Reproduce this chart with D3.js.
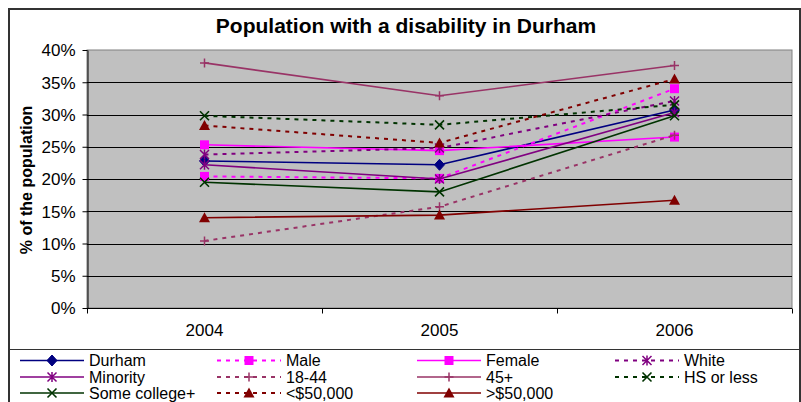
<!DOCTYPE html>
<html>
<head>
<meta charset="utf-8">
<script src="https://cdn.jsdelivr.net/npm/d3@7/dist/d3.min.js"></script>
<style>
  html, body { margin: 0; padding: 0; background: #fff; }
  svg text { font-family: "Liberation Sans", Arial, sans-serif; fill: #000; }
</style>
</head>
<body>
<svg id="chart" width="801" height="402"></svg>
<script>
// Survey years and the share of each group reporting a disability (%)
const years = ["2004", "2005", "2006"];
const yTicks = [0, 5, 10, 15, 20, 25, 30, 35, 40];

const durham      = [22.8, 22.2, 30.7];
const male        = [20.4, 20.1, 34.0];
const female      = [25.3, 24.4, 26.5];
const white       = [23.8, 24.8, 32.1];
const minority    = [22.2, 20.0, 30.3];
const age18to44   = [10.4, 15.7, 26.8];
const age45plus   = [38.0, 32.9, 37.6];
const hsOrLess    = [29.8, 28.4, 31.5];
const someCollege = [19.5, 18.0, 29.8];
const under50k    = [28.3, 25.6, 35.5];
const over50k     = [14.0, 14.4, 16.7];

const seriesNames = ["Durham", "Male", "Female", "White", "Minority", "18-44", "45+",
                     "HS or less", "Some college+", "<$50,000", ">$50,000"];
const seriesValues = [durham, male, female, white, minority, age18to44, age45plus,
                      hsOrLess, someCollege, under50k, over50k];

// Line colour, dash and marker per series
const styles = [
  { color: "#000080", dashed: false, marker: "diamond" },
  { color: "#FF00FF", dashed: true,  marker: "square" },
  { color: "#FF00FF", dashed: false, marker: "square" },
  { color: "#800080", dashed: true,  marker: "star" },
  { color: "#800080", dashed: false, marker: "star" },
  { color: "#993366", dashed: true,  marker: "plus" },
  { color: "#993366", dashed: false, marker: "plus" },
  { color: "#003300", dashed: true,  marker: "cross" },
  { color: "#003300", dashed: false, marker: "cross" },
  { color: "#800000", dashed: true,  marker: "triangle" },
  { color: "#800000", dashed: false, marker: "triangle" }
];

const series = seriesNames.map((name, i) => ({ name, values: seriesValues[i], ...styles[i] }));

const svg = d3.select("#chart");
const labelSize = "17px";
const legendSize = "16px";

// Chart frame
svg.append("rect")
  .attr("x", 9).attr("y", 9).attr("width", 791).attr("height", 400)
  .attr("fill", "#fff").attr("stroke", "#333").attr("stroke-width", 2);

const plot = { left: 87, right: 792, top: 50, bottom: 308 };

const x = d3.scaleBand().domain(years).range([plot.left, plot.right]);
const y = d3.scaleLinear().domain([0, 40]).range([plot.bottom, plot.top]);

// Plot area
svg.append("rect")
  .attr("x", plot.left).attr("y", plot.top)
  .attr("width", plot.right - plot.left).attr("height", plot.bottom - plot.top)
  .attr("fill", "#C0C0C0").attr("stroke", "#808080").attr("stroke-width", 1);

// Horizontal gridlines
svg.append("g")
  .selectAll("line")
  .data(yTicks.filter(t => t > 0 && t < 40))
  .join("line")
  .attr("x1", plot.left).attr("x2", plot.right)
  .attr("y1", d => Math.round(y(d)) + 0.5).attr("y2", d => Math.round(y(d)) + 0.5)
  .attr("stroke", "#000").attr("stroke-width", 1);

// Y axis
const yAxis = svg.append("g")
  .attr("transform", `translate(${plot.left + 0.5},0)`)
  .call(d3.axisLeft(y).tickValues(yTicks).tickFormat(d => d + "%").tickSize(5).tickSizeOuter(0));
yAxis.select(".domain").attr("stroke", "#000");
yAxis.selectAll(".tick line").attr("stroke", "#000");
yAxis.selectAll(".tick text")
  .attr("x", -12).attr("dy", "0.35em")
  .style("font-size", labelSize);

// X axis, tick marks on the category boundaries
const xAxisG = svg.append("g").attr("transform", `translate(0,${plot.bottom + 0.5})`);
xAxisG.append("line")
  .attr("x1", plot.left).attr("x2", plot.right)
  .attr("stroke", "#000");
const boundaries = years.map(d => x(d)).concat([x(years[years.length - 1]) + x.bandwidth()]);
xAxisG.selectAll("line.tk")
  .data(boundaries)
  .join("line").attr("class", "tk")
  .attr("x1", d => Math.round(d) + 0.5).attr("x2", d => Math.round(d) + 0.5)
  .attr("y1", 0).attr("y2", 5)
  .attr("stroke", "#000");
xAxisG.selectAll("text")
  .data(years)
  .join("text")
  .attr("x", d => x(d) + x.bandwidth() / 2)
  .attr("y", 27)
  .attr("text-anchor", "middle")
  .style("font-size", labelSize)
  .text(d => d);

// Title
svg.append("text")
  .attr("x", 406).attr("y", 33)
  .attr("text-anchor", "middle")
  .style("font-size", "21px").style("font-weight", "bold")
  .text("Population with a disability in Durham");

// Y axis title
svg.append("text")
  .attr("transform", `translate(32,${(plot.top + plot.bottom) / 2 + 1}) rotate(-90)`)
  .attr("text-anchor", "middle")
  .style("font-size", "16px").style("font-weight", "bold")
  .text("% of the population");

// Marker shapes
function drawMarker(g, kind, color, cx, cy) {
  const s = 4.5;
  if (kind === "diamond") {
    g.append("path").attr("d", `M${cx},${cy - 5.5}L${cx + 5},${cy}L${cx},${cy + 5.5}L${cx - 5},${cy}Z`)
      .attr("fill", color).attr("stroke", color);
  } else if (kind === "square") {
    g.append("rect").attr("x", cx - 4.5).attr("y", cy - 4.5).attr("width", 9).attr("height", 9)
      .attr("fill", color);
  } else if (kind === "triangle") {
    g.append("path").attr("d", `M${cx},${cy - 5.5}L${cx + 5.5},${cy + 4.5}L${cx - 5.5},${cy + 4.5}Z`)
      .attr("fill", color);
  } else if (kind === "plus") {
    g.append("path").attr("d", `M${cx - s},${cy}H${cx + s}M${cx},${cy - s}V${cy + s}`)
      .attr("stroke", color).attr("stroke-width", 1.5).attr("fill", "none");
  } else if (kind === "cross") {
    g.append("path").attr("d", `M${cx - s},${cy - s}L${cx + s},${cy + s}M${cx - s},${cy + s}L${cx + s},${cy - s}`)
      .attr("stroke", color).attr("stroke-width", 1.6).attr("fill", "none");
  } else if (kind === "star") {
    g.append("path").attr("d", `M${cx - s},${cy - s}L${cx + s},${cy + s}M${cx - s},${cy + s}L${cx + s},${cy - s}M${cx},${cy - s - 0.5}V${cy + s + 0.5}`)
      .attr("stroke", color).attr("stroke-width", 1.5).attr("fill", "none");
  }
}

const dash = "4,5";
const line = d3.line()
  .x((d, i) => x(years[i]) + x.bandwidth() / 2)
  .y(d => y(d));

// Series lines and markers, drawn in series order
const seriesG = svg.append("g");
series.forEach(s => {
  const g = seriesG.append("g");
  g.append("path")
    .attr("d", line(s.values))
    .attr("fill", "none")
    .attr("stroke", s.color)
    .attr("stroke-width", s.dashed ? 2 : 1.6)
    .attr("stroke-dasharray", s.dashed ? dash : null);
  s.values.forEach((v, i) => drawMarker(g, s.marker, s.color, x(years[i]) + x.bandwidth() / 2, y(v)));
});

// Legend
svg.append("line")
  .attr("x1", 9).attr("x2", 800).attr("y1", 349.5).attr("y2", 349.5)
  .attr("stroke", "#333").attr("stroke-width", 1);

const legendCols = [20, 217, 417, 615];
const legendRowY = [360.5, 377, 393];
const legend = svg.append("g");
series.forEach((s, i) => {
  const col = i % 4, row = Math.floor(i / 4);
  const lx = legendCols[col], ly = legendRowY[row];
  const g = legend.append("g");
  g.append("line")
    .attr("x1", lx).attr("x2", lx + 64).attr("y1", ly).attr("y2", ly)
    .attr("stroke", s.color)
    .attr("stroke-width", s.dashed ? 2 : 1.6)
    .attr("stroke-dasharray", s.dashed ? dash : null);
  drawMarker(g, s.marker, s.color, lx + 32, ly);
  g.append("text")
    .attr("x", lx + 69).attr("y", ly).attr("dy", "0.36em")
    .style("font-size", legendSize)
    .text(s.name);
});
</script>
</body>
</html>
